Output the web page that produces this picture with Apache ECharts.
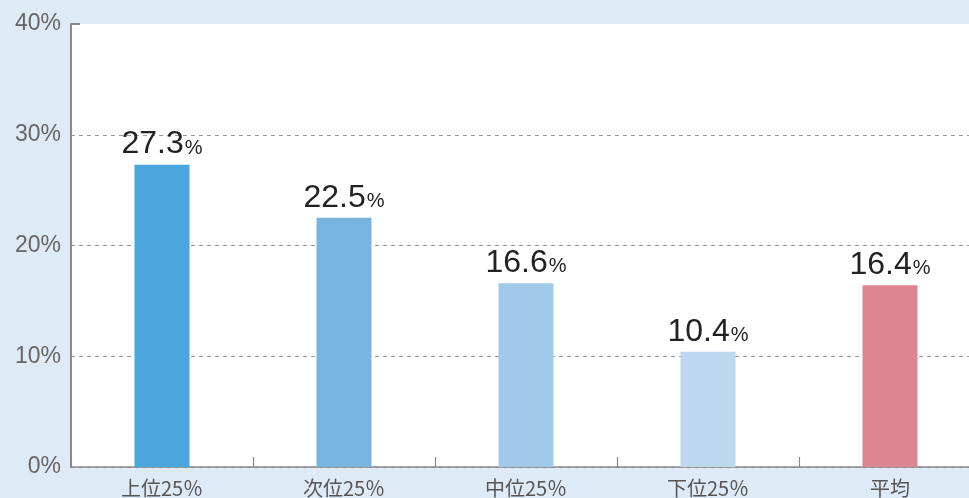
<!DOCTYPE html>
<html><head><meta charset="utf-8">
<script src="https://cdn.jsdelivr.net/npm/echarts@6/dist/echarts.min.js"></script>
<style>html,body{margin:0;padding:0;background:#deeaf6;overflow:hidden;}#c{width:981px;height:498px;}</style>
</head><body><div id="c"></div>
<script>
const categories = ['上位25％', '次位25％', '中位25％', '下位25％', '平均'];
const values = [27.3, 22.5, 16.6, 10.4, 16.4];
const barColors = ['#4aa6dc', '#7ab5e1', '#a0c9ea', '#bdd8ef', '#de8592'];
const yTicks = [0, 10, 20, 30, 40];

const chart = echarts.init(document.getElementById('c'), null, {renderer: 'canvas'});
chart.setOption({
  backgroundColor: '#deeaf6',
  animation: false,
  grid: {left: 71, top: 24, right: 0, bottom: 31, show: true, backgroundColor: '#ffffff', borderWidth: 0, containLabel: false},
  xAxis: {
    type: 'category', data: categories,
    axisLine: {lineStyle: {color: '#888', width: 1.5}},
    axisTick: {show: true, inside: true, length: 10, lineStyle: {color: '#888', width: 1.2}},
    axisLabel: {color: '#555', fontSize: 20, margin: 11, fontFamily: 'Noto Sans CJK JP'}
  },
  yAxis: {
    type: 'value', min: yTicks[0], max: yTicks[yTicks.length - 1], interval: 10,
    axisLine: {show: true, lineStyle: {color: '#888', width: 2}},
    axisTick: {show: false},
    axisLabel: {color: '#666', fontSize: 23, margin: 10, fontFamily: 'Liberation Sans, Arial', formatter: v => v + '%'},
    splitLine: {show: true, lineStyle: {color: ['#999', '#999', '#999', '#999', 'rgba(0,0,0,0)'], type: [4, 4], width: 1}}
  },
  series: [{
    type: 'bar', barWidth: 55,
    data: values.map((v, i) => ({value: v, itemStyle: {color: barColors[i]}})),
    label: {
      show: true, position: 'top', distance: 4,
      formatter: p => '{n|' + p.value.toFixed(1) + '}{p|%}',
      rich: {
        n: {fontSize: 32, color: '#222', fontFamily: 'Liberation Sans, Arial'},
        p: {fontSize: 20, color: '#222', fontFamily: 'Liberation Sans, Arial', padding: [7, 0, 0, 1]}
      }
    }
  }],
  graphic: [{type: 'line', z: 100, shape: {x1: 71, y1: 24, x2: 80, y2: 24}, style: {stroke: '#888', lineWidth: 2}}]
});
</script></body></html>
